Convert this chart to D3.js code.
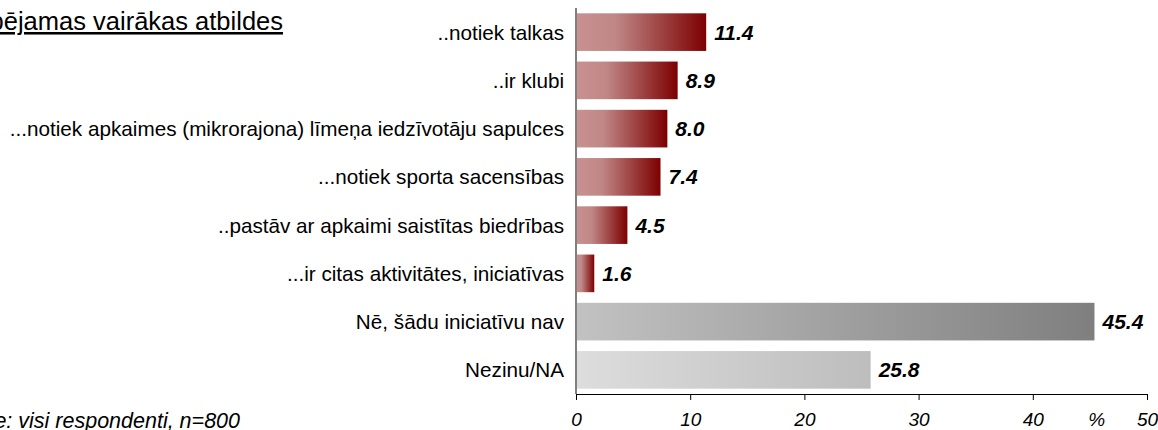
<!DOCTYPE html>
<html>
<head>
<meta charset="utf-8">
<script src="https://cdn.jsdelivr.net/npm/d3@7"></script>
<style>
  body { margin: 0; background: #fff; }
  text { font-family: "Liberation Sans", Arial, sans-serif; }
</style>
</head>
<body>
<svg id="chart"></svg>
<script>
const categories = [
    "..notiek talkas",
    "..ir klubi",
    "...notiek apkaimes (mikrorajona) līmeņa iedzīvotāju sapulces",
    "...notiek sporta sacensības",
    "..pastāv ar apkaimi saistītas biedrības",
    "...ir citas aktivitātes, iniciatīvas",
    "Nē, šādu iniciatīvu nav",
    "Nezinu/NA"
];
const values = [11.4, 8.9, 8.0, 7.4, 4.5, 1.6, 45.4, 25.8];
const groups = ["red", "red", "red", "red", "red", "red", "gray", "light"];
const xTicks = [0, 10, 20, 30, 40, 50];

const width = 1158, height = 430;
const svg = d3.select("#chart")
    .attr("width", width)
    .attr("height", height);

// gradients run along each bar
const defs = svg.append("defs");
function addGradient(id, stops) {
    let g = defs.append("linearGradient")
        .attr("id", id)
        .attr("x1", "0%").attr("x2", "100%")
        .attr("y1", "0%").attr("y2", "0%");
    stops.forEach(s => g.append("stop").attr("offset", s[0]).attr("stop-color", s[1]));
}
addGradient("red", [[0, "#c99191"], [0.3, "#c08787"], [1, "#7d0000"]]);
addGradient("gray", [[0, "#c2c2c2"], [1, "#7f7f7f"]]);
addGradient("light", [[0, "#dddddd"], [1, "#bdbdbd"]]);

const x = d3.scaleLinear().domain([0, 50]).range([576, 1147]);
const y = d3.scaleBand().domain(categories).range([8, 394])
    .paddingInner(0.22).paddingOuter(0.11);
const axisY = 394;

// bars
svg.selectAll("rect.bar")
    .data(categories)
    .enter().append("rect")
        .attr("class", "bar")
        .attr("x", x(0))
        .attr("y", d => y(d))
        .attr("width", (d, i) => x(values[i]) - x(0))
        .attr("height", y.bandwidth())
        .attr("fill", (d, i) => "url(#" + groups[i] + ")");

// value labels
svg.selectAll("text.val")
    .data(categories)
    .enter().append("text")
        .attr("class", "val")
        .attr("x", (d, i) => x(values[i]) + 8)
        .attr("y", d => y(d) + y.bandwidth() / 2)
        .attr("dy", "0.36em")
        .attr("font-size", 21)
        .attr("font-weight", "bold")
        .attr("font-style", "italic")
        .text((d, i) => values[i].toFixed(1));

// category labels
svg.selectAll("text.cat")
    .data(categories)
    .enter().append("text")
        .attr("class", "cat")
        .attr("text-anchor", "end")
        .attr("x", 564)
        .attr("y", d => y(d) + y.bandwidth() / 2)
        .attr("dy", "0.36em")
        .attr("font-size", 20.7)
        .attr("fill", "#000")
        .text(d => d);

// vertical axis line
svg.append("line")
    .attr("x1", x(0)).attr("x2", x(0))
    .attr("y1", 8).attr("y2", axisY)
    .attr("stroke", "#808080")
    .attr("stroke-width", 2);

// horizontal axis
let xAxis = svg.append("g")
    .attr("transform", "translate(0," + axisY + ")")
    .call(d3.axisBottom(x)
        .tickValues(xTicks)
        .tickSize(6)
        .tickSizeOuter(0)
        .tickPadding(13));
xAxis.select(".domain").attr("stroke", "#000");
xAxis.selectAll(".tick line").attr("stroke", "#000");
xAxis.selectAll(".tick text")
    .attr("font-size", 19)
    .attr("font-style", "italic")
    .attr("font-family", "Liberation Sans, Arial, sans-serif")
    .attr("fill", "#000");

svg.append("text")
    .attr("x", x(45.6))
    .attr("y", axisY + 6 + 13)
    .attr("dy", "0.71em")
    .attr("text-anchor", "middle")
    .attr("font-size", 19)
    .attr("font-style", "italic")
    .text("%");

// note, top left (clipped in the original)
svg.append("text")
    .attr("text-anchor", "end")
    .attr("x", 283)
    .attr("y", 30)
    .attr("font-size", 25.5)
    .attr("text-decoration", "underline")
    .text("Iespējamas vairākas atbildes");

// base, bottom left
svg.append("text")
    .attr("text-anchor", "end")
    .attr("x", 240)
    .attr("y", 428)
    .attr("font-size", 21.5)
    .attr("font-style", "italic")
    .text("Bāze: visi respondenti, n=800");
</script>
</body>
</html>
